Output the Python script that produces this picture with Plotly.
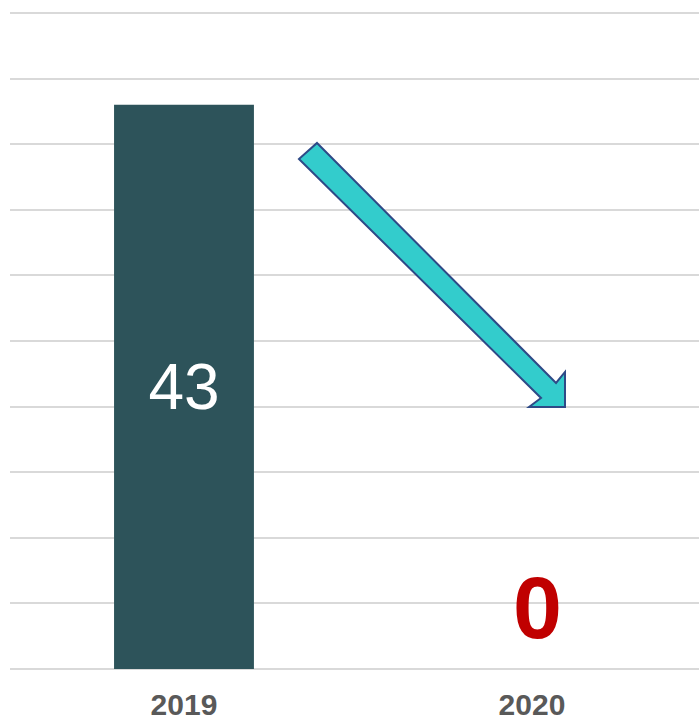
import plotly.graph_objects as go

years = ["2019", "2020"]
values = [43, 0]
bar_labels = ["43", ""]
zero_label = "0"

fig = go.Figure()
fig.add_trace(go.Bar(
    x=years, y=values, width=0.402,
    marker=dict(color="#2D535A", line=dict(width=0)),
    text=bar_labels, textposition="inside", insidetextanchor="middle",
    textfont=dict(family="Liberation Sans, Arial", size=64, color="white"),
    hoverinfo="skip",
))

fig.add_annotation(
    x=1, y=values[1], text="<b>%s</b>" % zero_label, showarrow=False,
    xanchor="center", yanchor="middle", xshift=6, yshift=62,
    font=dict(family="Liberation Sans, Arial", size=88, color="#C00000"),
)

# diagonal arrow (paper coordinates), plot area spans x 10..699, y 11..669
def px(x):
    return (x - 10) / 689.0

def py(y):
    return (669 - y) / 658.0

arrow_win = [(317, 143), (556, 383), (565, 372), (565, 407), (529, 407), (541, 398), (299, 159)]
path = "M " + " L ".join(f"{px(x):.4f},{py(y):.4f}" for x, y in arrow_win) + " Z"
fig.add_shape(type="path", path=path, xref="paper", yref="paper",
              fillcolor="#33CCCC", line=dict(color="#2E4A87", width=2), layer="above")

fig.update_layout(
    width=699, height=719,
    margin=dict(l=10, r=0, t=11, b=50),
    plot_bgcolor="white", paper_bgcolor="white",
    showlegend=False,
    hovermode=False,
    xaxis=dict(type="category", range=[-0.5, 1.48], showgrid=False, zeroline=False, showline=False,
               automargin=False,
               tickfont=dict(family="Liberation Sans, Arial", size=30, color="#595959"),
               tickprefix="<b>", ticksuffix="</b>", ticks="", ticklabelstandoff=15),
    yaxis=dict(range=[0, 50.15], dtick=5, showticklabels=False, showgrid=True, automargin=False,
               gridcolor="#D9D9D9", gridwidth=2, zeroline=True, zerolinecolor="#D9D9D9",
               zerolinewidth=2, showline=False),
)
fig.write_html("out.html", config={"displayModeBar": False},
               post_script="document.body.style.margin='0';document.body.style.overflow='hidden';")
